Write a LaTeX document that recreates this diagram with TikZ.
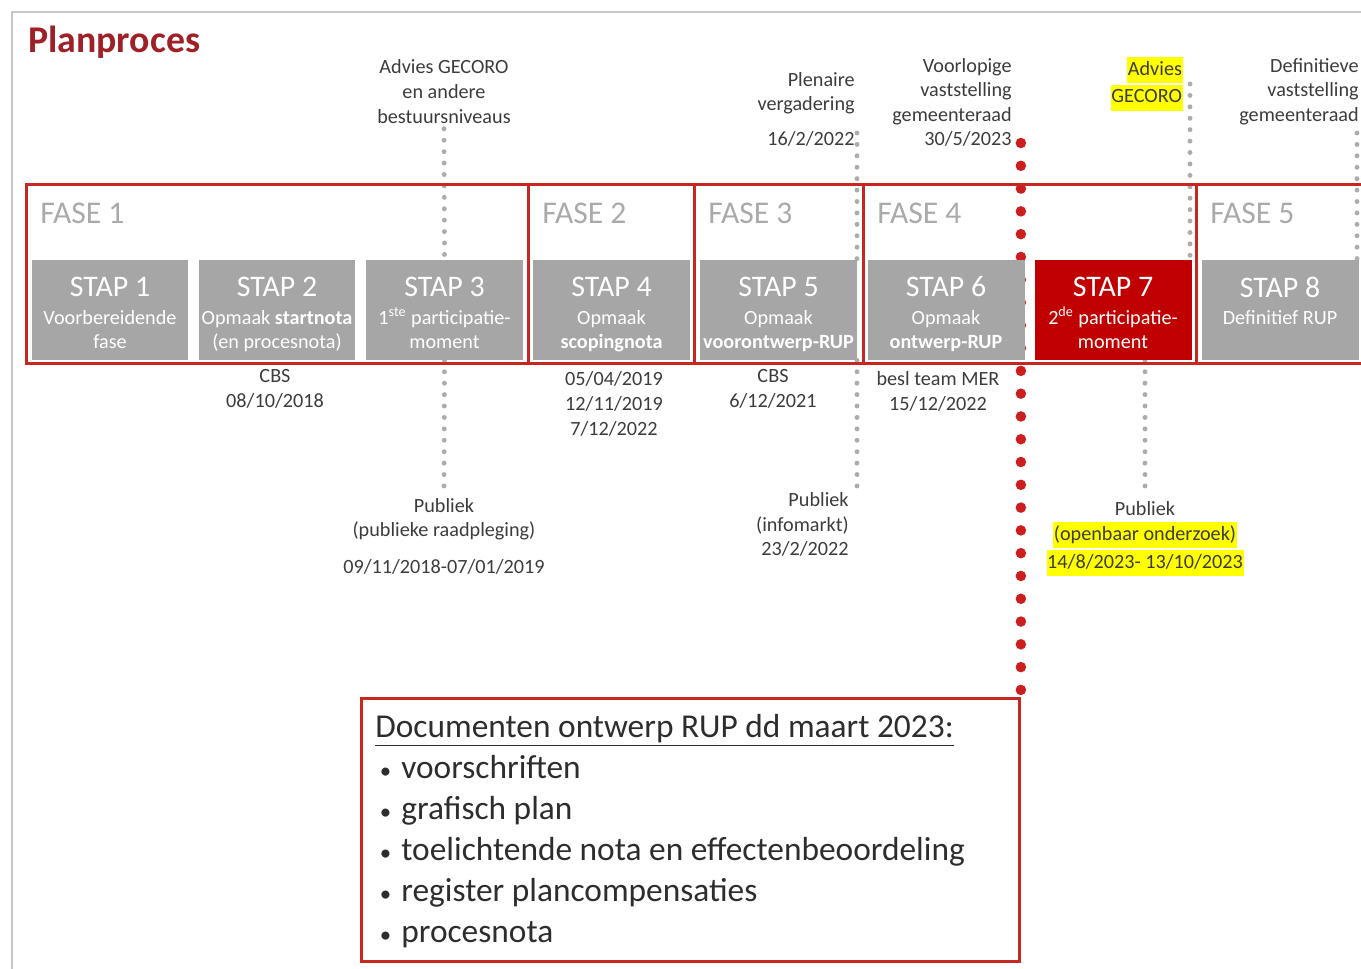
\documentclass[tikz,border=0pt]{standalone}
\usepackage{fontspec}
\setmainfont{Carlito}
\usetikzlibrary{backgrounds}
\setlength{\fboxsep}{0.4pt}

\begin{document}
\begin{tikzpicture}[x=0.02cm,y=-0.02cm,
  fasebox/.style={draw=fasered,line width=1.7pt,minimum height=3.58cm,anchor=north west,inner sep=0pt},
  fasetext/.style={anchor=west,inner sep=0pt,text=fasegrey,font=\fontsize{18}{22}\selectfont},
  stapbox/.style={minimum width=3.14cm,minimum height=2cm,inner sep=0pt},
  staptitle/.style={inner sep=0pt,text=white,font=\fontsize{17}{20}\selectfont},
  stapsub/.style={anchor=north,inner sep=0pt,align=center,text=white,font=\fontsize{11.5}{13.7}\selectfont},
  note/.style={inner sep=0pt,text=notetext,font=\fontsize{11.5}{14}\selectfont},
  greydots/.style={draw=dotgrey,line width=2.8pt,line cap=round,dash pattern=on 0pt off 6.5pt},
  reddots/.style={draw=dotred,line width=6pt,line cap=round,dash pattern=on 0pt off 12.97pt}]
  \definecolor{fasered}{RGB}{200,38,32}
  \definecolor{fasegrey}{RGB}{170,170,170}
  \definecolor{stapgrey}{RGB}{166,166,166}
  \definecolor{stapred}{RGB}{192,0,0}
  \definecolor{dotgrey}{RGB}{172,172,172}
  \definecolor{dotred}{RGB}{204,30,30}
  \definecolor{titlered}{RGB}{160,32,40}
  \definecolor{notetext}{RGB}{60,60,60}
  \definecolor{doctext}{RGB}{45,45,45}
  \definecolor{hlyellow}{RGB}{255,255,0}
  \definecolor{framegrey}{RGB}{200,200,200}
  \def\hl#1{\colorbox{hlyellow}{\strut #1}}
  \def\bul{\hspace*{2.5pt}\makebox[12.3pt][l]{\fontsize{13}{13}\selectfont\textbullet}}

  \useasboundingbox (0,0) rectangle (1361,969);
  \clip (0,0) rectangle (1361,969);

  \draw[framegrey,line width=0.8pt] (12,969) -- (12,12) -- (1361,12);

  \node[anchor=west,inner sep=0pt,text=titlered,font=\fontsize{21.5}{25}\selectfont\bfseries] (title) at (28,42) {Planproces};

  \foreach \n/\cx/\col/\suba/\subb in {
    1/110/stapgrey/Voorbereidende/fase,
    2/277/stapgrey/Opmaak \textbf{startnota}/(en procesnota),
    3/444.5/stapgrey/1\smash{\textsuperscript{ste}} participatie-/moment,
    4/611.5/stapgrey/Opmaak/\textbf{scopingnota},
    5/778.5/stapgrey/Opmaak/\textbf{voorontwerp-RUP},
    6/946/stapgrey/Opmaak/\textbf{ontwerp-RUP},
    7/1113/stapred/2\smash{\textsuperscript{de}} participatie-/moment,
    8/1280/stapgrey/Definitief RUP/}
  {
    \node[stapbox,fill=\col] (stap\n) at (\cx,310) {};
    \node[staptitle] at (\cx,287) {STAP \n};
    \node[stapsub] at (\cx,310) {\suba\\\subb};
  }

  \foreach \n/\fx/\w in {1/25/10.04,2/527/3.32,3/693/3.38,4/862/6.66,5/1195/4.1}
  {
    \node[fasebox,minimum width=\w cm] (fase\n) at (\fx,183) {};
    \node[fasetext] at (\fx+15,213) {FASE \n};
  }

  \node[note,align=center] (gecoro1) at (444,91.5) {Advies GECORO\\en andere\\bestuursniveaus};
  \node[note,align=right,anchor=east] (plenair) at (855,109.5) {Plenaire\\vergadering\\[6pt]16/2/2022};
  \node[note,align=right,anchor=east] (voorlopig) at (1012,102.5) {Voorlopige\\vaststelling\\gemeenteraad\\30/5/2023};
  \node[note,align=right,anchor=east] (gecoro2) at (1183,84) {\hl{Advies}\\\hl{GECORO}};
  \node[note,align=right,anchor=east] (definitief) at (1359,91.5) {Definitieve\\vaststelling\\gemeenteraad};
  \node[note,align=center] (cbs1) at (275,389) {CBS\\08/10/2018};
  \node[note,align=center] (scoping) at (614,404) {05/04/2019\\12/11/2019\\7/12/2022};
  \node[note,align=center] (cbs2) at (773,389) {CBS\\6/12/2021};
  \node[note,align=center] (mer) at (938,391.5) {besl team MER\\15/12/2022};
  \node[note,align=center] (publiek1) at (444,536.5) {Publiek\\(publieke raadpleging)\\[7pt]09/11/2018-07/01/2019};
  \node[note,align=right,anchor=east] (publiek2) at (849,524.5) {Publiek\\(infomarkt)\\23/2/2022};
  \node[note,align=center] (publiek3) at (1145,539) {Publiek\\\hl{(openbaar onderzoek)}\\\hl{14/8/2023- 13/10/2023}};

  \node[draw=fasered,line width=1.7pt,minimum width=13.16cm,minimum height=5.26cm,anchor=north west] (docs) at (360,697) {};
  \node[anchor=west,inner sep=0pt,align=left,text=doctext,font=\fontsize{19}{23.3}\selectfont] (doclist) at (375,831)
    {\underline{Documenten ontwerp RUP dd maart 2023:}\\
     \bul voorschriften\\
     \bul grafisch plan\\
     \bul toelichtende nota en effectenbeoordeling\\
     \bul register plancompensaties\\
     \bul procesnota};

  \begin{pgfonlayer}{background}
    \draw[greydots,shorten <=3pt] (gecoro1.south) -- (stap3.north);
    \draw[greydots,shorten >=6pt] (stap3.south) -- (publiek1.north);
    \coordinate (plendot) at (857,133);
    \draw[greydots] (plendot) -- (plendot |- stap5.north);
    \draw[greydots] (plendot |- stap5.south) -- (plendot |- publiek2.north);
    \coordinate (voordot) at (docs.north east |- 0,143);
    \draw[reddots,shorten >=4pt] (voordot) -- (docs.north east);
    \coordinate (gecorodot) at (1190,84);
    \draw[greydots] (gecorodot) -- (gecorodot |- stap7.north);
    \draw[greydots,shorten >=6pt] (publiek3.north |- stap7.south) -- (publiek3.north);
    \coordinate (defdot) at (1357,133);
    \draw[greydots] (defdot) -- (defdot |- stap8.north);
  \end{pgfonlayer}
\end{tikzpicture}
\end{document}
